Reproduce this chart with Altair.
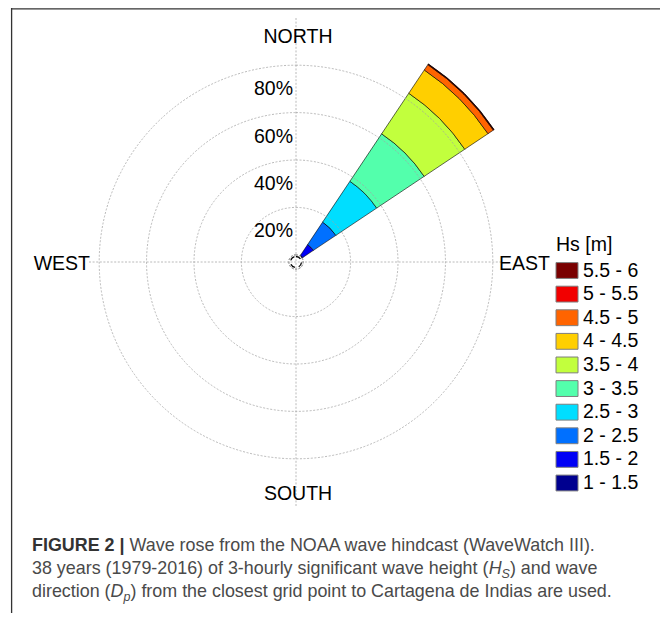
import math
import altair as alt
import pandas as pd

# ---------------- data ----------------
hs_bins = ["1 - 1.5", "1.5 - 2", "2 - 2.5", "2.5 - 3", "3 - 3.5",
           "3.5 - 4", "4 - 4.5", "4.5 - 5", "5 - 5.5", "5.5 - 6"]
hs_freq = [0.4, 5.4, 11.4, 20.7, 24.1, 20.6, 11.8, 2.7, 0.25, 0.15]   # % of records (NE sector)
hs_colors = ["#00008f", "#0000f5", "#0070ff", "#00deff", "#53ffac",
             "#c2ff3d", "#ffcf00", "#ff6400", "#f20000", "#7a0000"]
sector_dir = 45.0          # NE
sector_width = 22.5        # 16 sectors
ring_pct = [20, 40, 60, 80]
ring_labels = ["20%", "40%", "60%", "80%"]

caption_lines = [
    [("FIGURE 2 | ", "bold"), ("Wave rose from the NOAA wave hindcast (WaveWatch III).", "reg")],
    [("38 years (1979-2016) of 3-hourly significant wave height (", "reg"), ("H", "it"), ("S", "sub"),
     (") and wave", "reg")],
    [("direction (", "reg"), ("D", "it"), ("p", "sub"),
     (") from the closest grid point to Cartagena de Indias are used.", "reg")],
]

# ---------------- layout ----------------
FONT = "Liberation Sans"
W, H = 652, 605
CX, CY = 288, 254
R0, K = 7.2, 2.37          # px offset of calm circle, px per percent


def rpx(p):
    return R0 + K * p


FS = 19.5
CAP_FS = 17.9
SUB_FS = 12.5
GRID = "#a3a3a3"

theta_scale = alt.Scale(domain=[0, 360], range=[0, 2 * math.pi])
r_scale = alt.Scale(type="linear", domain=[0, 100], range=[R0, rpx(100)])
color_scale = alt.Scale(domain=hs_bins, range=hs_colors)

# ---------------- wedge ----------------
wedge_df = pd.DataFrame({"hs": hs_bins, "freq": hs_freq,
                         "order": list(range(len(hs_bins))), "dir": sector_dir})
wedge = (
    alt.Chart(wedge_df)
    .transform_window(cum="sum(freq)", sort=[alt.SortField("order")], frame=[None, 0])
    .transform_calculate(start="datum.cum - datum.freq",
                         t1=f"datum.dir - {sector_width / 2}",
                         t2=f"datum.dir + {sector_width / 2}")
    .mark_arc(stroke="black", strokeWidth=0.6)
    .encode(
        x=alt.value(CX), y=alt.value(CY),
        theta=alt.Theta("t1:Q", scale=theta_scale, stack=None),
        theta2="t2:Q",
        radius=alt.Radius("cum:Q", scale=r_scale, stack=None),
        radius2="start:Q",
        color=alt.Color("hs:N", scale=color_scale, legend=None),
    )
)

# ---------------- grid ----------------
rings = (
    alt.Chart(pd.DataFrame({"pct": ring_pct}))
    .mark_arc(filled=False, stroke=GRID, strokeWidth=0.75, strokeDash=[2, 1.6])
    .encode(x=alt.value(CX), y=alt.value(CY),
            theta=alt.value(0), theta2=alt.value(2 * math.pi),
            radius=alt.Radius("pct:Q", scale=r_scale, stack=None))
)
one = pd.DataFrame({"a": [0]})
hline = alt.Chart(one).mark_rule(color=GRID, strokeWidth=0.75, strokeDash=[2, 1.6]).encode(
    x=alt.value(CX - 207), x2=alt.value(CX + 207), y=alt.value(CY))
vline = alt.Chart(one).mark_rule(color=GRID, strokeWidth=0.75, strokeDash=[2, 1.6]).encode(
    x=alt.value(CX), y=alt.value(CY - 244), y2=alt.value(CY + 244))
calm = alt.Chart(one).mark_arc(filled=False, stroke="black", strokeWidth=1.3, strokeDash=[5, 4]).encode(
    x=alt.value(CX), y=alt.value(CY), theta=alt.value(0), theta2=alt.value(2 * math.pi),
    radius=alt.value(5.5))

pct_labels = (
    alt.Chart(pd.DataFrame({"pct": ring_pct, "lab": ring_labels}))
    .mark_text(align="right", baseline="alphabetic", dx=-3, dy=30, font=FONT, fontSize=FS, color="black")
    .encode(x=alt.value(CX),
            y=alt.Y("pct:Q", axis=None,
                    scale=alt.Scale(domain=[0, 100], range=[CY - R0, CY - rpx(100)])),
            text="lab:N")
)


def label(txt, x, y, align):
    return alt.Chart(one).mark_text(text=txt, align=align, baseline="alphabetic", font=FONT,
                                    fontSize=FS, color="black").encode(x=alt.value(x), y=alt.value(y))


compass = [
    label("NORTH", CX + 2, 35, "center"),
    label("SOUTH", CX + 2, 492, "center"),
    label("WEST", 82, 262, "right"),
    label("EAST", 491, 262, "left"),
]

# ---------------- legend ----------------
legend_order = hs_bins[::-1]
leg_y = alt.Scale(type="point", domain=legend_order, range=[262.5, 475], padding=0)
leg_df = pd.DataFrame({"hs": legend_order})
leg_sw = alt.Chart(leg_df).mark_point(shape="M-1,-0.72H1V0.72H-1Z", size=484, filled=True, opacity=1,
                                      stroke="#7f7f7f", strokeWidth=1).encode(
    x=alt.value(559), y=alt.Y("hs:N", scale=leg_y, axis=None),
    color=alt.Color("hs:N", scale=color_scale, legend=None))
leg_lab = alt.Chart(leg_df).mark_text(align="left", baseline="middle", font=FONT, fontSize=FS,
                                      color="black").encode(
    x=alt.value(575), y=alt.Y("hs:N", scale=leg_y, axis=None), text="hs:N")
leg_title = label("Hs [m]", 548, 243, "left")

# ---------------- caption ----------------
AR = {' ': 278, '(': 333, ')': 333, '-': 333, '.': 278, ',': 278, '|': 260,
      'A': 667, 'B': 667, 'C': 722, 'D': 722, 'E': 667, 'F': 611, 'G': 778, 'H': 722, 'I': 278,
      'J': 500, 'K': 667, 'L': 556, 'M': 833, 'N': 722, 'O': 778, 'P': 667, 'Q': 778, 'R': 722,
      'S': 667, 'T': 611, 'U': 722, 'V': 667, 'W': 944, 'X': 667, 'Y': 667, 'Z': 611,
      'a': 556, 'b': 556, 'c': 500, 'd': 556, 'e': 556, 'f': 278, 'g': 556, 'h': 556, 'i': 222,
      'j': 222, 'k': 500, 'l': 222, 'm': 833, 'n': 556, 'o': 556, 'p': 556, 'q': 556, 'r': 333,
      's': 500, 't': 278, 'u': 556, 'v': 500, 'w': 722, 'x': 500, 'y': 500, 'z': 500}
for d in "0123456789":
    AR[d] = 556
BOLD = dict(AR)
BOLD.update({'|': 280})


def twidth(s, style):
    tab = BOLD if style == "bold" else AR
    fs = SUB_FS if style == "sub" else CAP_FS
    return sum(tab.get(c, 556) for c in s) * fs / 1000.0


CAP_X0 = 24
CAP_BASE = [543, 566, 589]
rows = []
for li, segs in enumerate(caption_lines):
    x = CAP_X0
    for txt, style in segs:
        y = CAP_BASE[li] + (4 if style == "sub" else 0)
        lead = len(txt) - len(txt.lstrip(" "))
        rows.append({"text": txt.strip(" "), "x": x + twidth(" " * lead, style), "y": y, "style": style})
        x += twidth(txt, style)
cap_df = pd.DataFrame(rows)

styles = {
    "reg": dict(fontSize=CAP_FS, color="#4a4a4a"),
    "bold": dict(fontSize=CAP_FS, color="#333333", fontWeight="bold"),
    "it": dict(fontSize=CAP_FS, color="#4a4a4a", fontStyle="italic"),
    "sub": dict(fontSize=SUB_FS, color="#4a4a4a", fontStyle="italic"),
}
caption = []
for st, kw in styles.items():
    caption.append(
        alt.Chart(cap_df[cap_df["style"] == st])
        .mark_text(align="left", baseline="alphabetic", font=FONT, **kw)
        .encode(x=alt.X("x:Q", scale=None), y=alt.Y("y:Q", scale=None), text="text:N")
    )

# ---------------- frame ----------------
top_rule = alt.Chart(one).mark_rule(color="#333333", strokeWidth=1.3).encode(
    x=alt.value(3), x2=alt.value(W), y=alt.value(0.8))
left_rule = alt.Chart(one).mark_rule(color="#333333", strokeWidth=1.3).encode(
    x=alt.value(3.6), y=alt.value(0), y2=alt.value(H))

chart = (
    alt.layer(wedge, rings, hline, vline, calm, pct_labels, *compass,
              leg_sw, leg_lab, leg_title, *caption, top_rule, left_rule)
    .resolve_scale(x="independent", y="independent")
    .properties(width=W, height=H, padding=0, autosize="none")
    .configure_view(stroke=None)
)

chart.save("out.html", embed_options={"renderer": "svg", "actions": False})
